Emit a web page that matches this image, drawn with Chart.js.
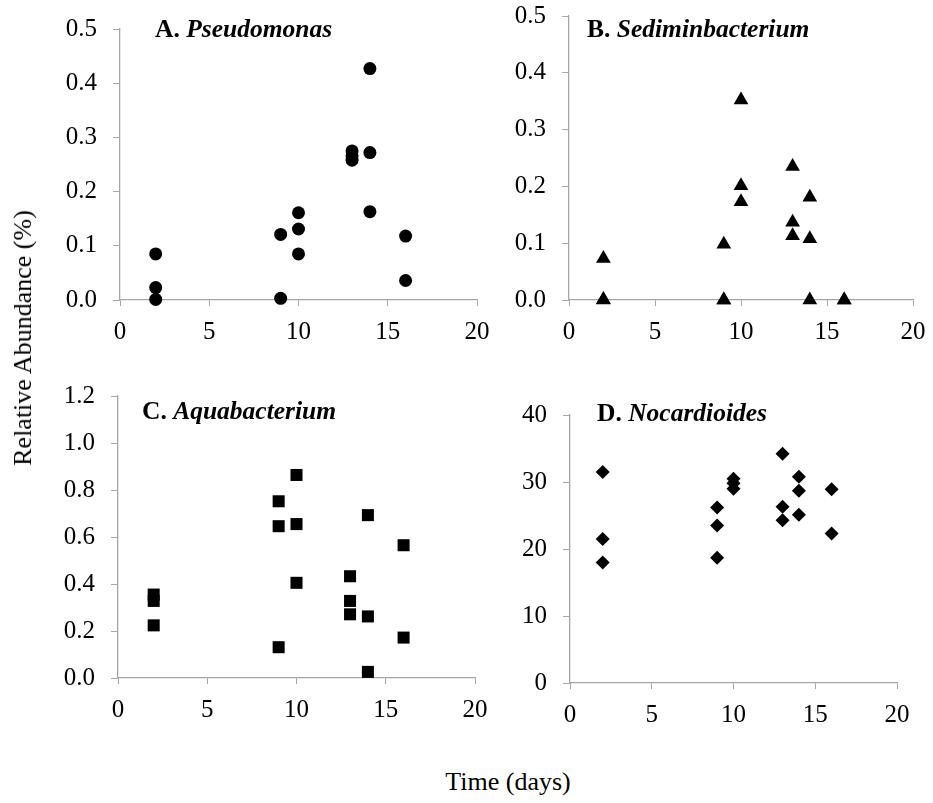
<!DOCTYPE html>
<html>
<head>
<meta charset="utf-8">
<script src="https://cdn.jsdelivr.net/npm/chart.js@4"></script>
<style>
  body { margin: 0; background: #fff; width: 933px; height: 803px; position: relative; overflow: hidden; }
  .box { position: absolute; }
  .lbl { position: absolute; font-family: 'Liberation Serif', 'Times New Roman', serif; font-size: 26px; line-height: 1; color: #000; white-space: nowrap; }
</style>
</head>
<body>
<div class="box" id="boxA"><canvas id="chartA"></canvas></div>
<div class="box" id="boxB"><canvas id="chartB"></canvas></div>
<div class="box" id="boxC"><canvas id="chartC"></canvas></div>
<div class="box" id="boxD"><canvas id="chartD"></canvas></div>
<div class="lbl" style="left:23px; top:338px; transform: translate(-50%, -50%) rotate(-90deg);">Relative Abundance (%)</div>
<div class="lbl" style="left:508px; top:769px; transform: translateX(-50%);">Time (days)</div>
<script>
// sampling days (x) and relative abundance (%) per genus
const daysA = [2, 2, 2, 9, 9, 10, 10, 10, 13, 13, 13, 14, 14, 14, 16, 16];
const pseudomonas = [0.085, 0.023, 0.001, 0.121, 0.003, 0.161, 0.131, 0.085, 0.275, 0.266, 0.258, 0.427, 0.272, 0.163, 0.118, 0.036];

const daysB = [2, 2, 2, 9, 9, 9, 10, 10, 10, 13, 13, 13, 14, 14, 14, 16, 16];
const sediminbacterium = [0.073, 0.001, 0.0, 0.098, 0.0, 0.0, 0.352, 0.201, 0.173, 0.235, 0.137, 0.113, 0.181, 0.108, 0.0, 0.0, 0.0];

const daysC = [2, 2, 2, 9, 9, 9, 10, 10, 10, 13, 13, 13, 14, 14, 14, 16, 16];
const aquabacterium = [0.355, 0.328, 0.224, 0.752, 0.646, 0.131, 0.864, 0.655, 0.405, 0.433, 0.328, 0.271, 0.693, 0.262, 0.026, 0.565, 0.172];

const daysD = [2, 2, 2, 9, 9, 9, 10, 10, 10, 13, 13, 13, 14, 14, 14, 16, 16];
const nocardioides = [31.5, 21.5, 18.0, 26.2, 23.5, 18.7, 30.5, 29.8, 29.0, 34.2, 26.3, 24.3, 30.8, 28.7, 25.1, 28.9, 22.3];

const xTicks = [0, 5, 10, 15, 20];
const yMaxA = 0.5, yMaxB = 0.5, yMaxC = 1.2, yMaxD = 40;

const axisGrey = '#a6a6a6';
const serif = "'Liberation Serif', 'Times New Roman', serif";

// draws the "A. Pseudomonas" style label inside the plot
const panelLabel = {
  id: 'panelLabel',
  afterDraw(chart, args, opts) {
    const ctx = chart.ctx;
    const x = chart.chartArea.left + opts.dx;
    const y = chart.chartArea.top + opts.dy;
    ctx.save();
    ctx.fillStyle = '#000';
    ctx.textBaseline = 'alphabetic';
    ctx.font = 'bold 25.5px ' + serif;
    ctx.fillText(opts.lead, x, y);
    const w = ctx.measureText(opts.lead + ' ').width;
    ctx.font = 'italic bold 25.5px ' + serif;
    ctx.fillText(opts.name, x + w, y);
    ctx.restore();
  }
};

// drop the label overflow padding so the plot box sits where layout.padding says
function noOverflow(s) {
  s.paddingLeft = 0;
  s.paddingRight = 0;
  s.paddingTop = 0;
  s.paddingBottom = 0;
}

function makePanel(id, boxId, box, days, values, yMax, yStep, decimals, marker, radius, label) {
  const el = document.getElementById(boxId);
  el.style.left = box.left + 'px';
  el.style.top = box.top + 'px';
  el.style.width = box.width + 'px';
  el.style.height = box.height + 'px';

  const points = days.map((d, i) => ({ x: d, y: values[i] }));

  return new Chart(document.getElementById(id), {
    type: 'scatter',
    data: {
      datasets: [{
        data: points,
        pointStyle: marker,
        pointRadius: radius,
        pointHoverRadius: radius,
        backgroundColor: '#000',
        borderColor: '#000',
        borderWidth: 0,
        clip: false
      }]
    },
    options: {
      responsive: true,
      maintainAspectRatio: false,
      animation: false,
      layout: {
        autoPadding: false,
        padding: { left: 0, top: box.padTop, right: box.padRight, bottom: 0 }
      },
      plugins: {
        legend: { display: false },
        tooltip: { enabled: false },
        panelLabel: label
      },
      scales: {
        x: {
          type: 'linear',
          min: 0,
          max: 20,
          afterBuildTicks: s => { s.ticks = xTicks.map(v => ({ value: v })); },
          afterFit: s => { s.height = 60; noOverflow(s); },
          ticks: { color: '#000', font: { family: serif, size: 25 }, padding: 11, maxRotation: 0 },
          grid: { display: true, drawOnChartArea: false, drawTicks: true, tickLength: 6, color: axisGrey },
          border: { color: axisGrey, width: 1.3 }
        },
        y: {
          min: 0,
          max: yMax,
          ticks: {
            stepSize: yStep,
            color: '#000',
            font: { family: serif, size: 25 },
            padding: 16,
            callback: v => Number(v).toFixed(decimals)
          },
          afterFit: s => { s.width = box.yWidth; noOverflow(s); },
          grid: { display: true, drawOnChartArea: false, drawTicks: true, tickLength: 7, color: axisGrey },
          border: { color: axisGrey, width: 1.3 }
        }
      }
    },
    plugins: [panelLabel]
  });
}

makePanel('chartA', 'boxA',
  { left: 10, top: 0, width: 487, height: 360, yWidth: 110, padTop: 29, padRight: 20 },
  daysA, pseudomonas, yMaxA, 0.1, 1, 'circle', 6.5,
  { lead: 'A.', name: 'Pseudomonas', dx: 35, dy: 8 });

makePanel('chartB', 'boxB',
  { left: 480, top: 0, width: 448, height: 360, yWidth: 89, padTop: 16, padRight: 15 },
  daysB, sediminbacterium, yMaxB, 0.1, 1, 'triangle', 8.5,
  { lead: 'B.', name: 'Sediminbacterium', dx: 18, dy: 21 });

makePanel('chartC', 'boxC',
  { left: 10, top: 370, width: 485, height: 368, yWidth: 108, padTop: 26, padRight: 20 },
  daysC, aquabacterium, yMaxC, 0.2, 1, 'rect', 8.5,
  { lead: 'C.', name: 'Aquabacterium', dx: 24, dy: 23 });

makePanel('chartD', 'boxD',
  { left: 480, top: 370, width: 437, height: 373, yWidth: 90, padTop: 45, padRight: 20 },
  daysD, nocardioides, yMaxD, 10, 0, 'rectRot', 7,
  { lead: 'D.', name: 'Nocardioides', dx: 27, dy: 6 });
</script>
</body>
</html>
